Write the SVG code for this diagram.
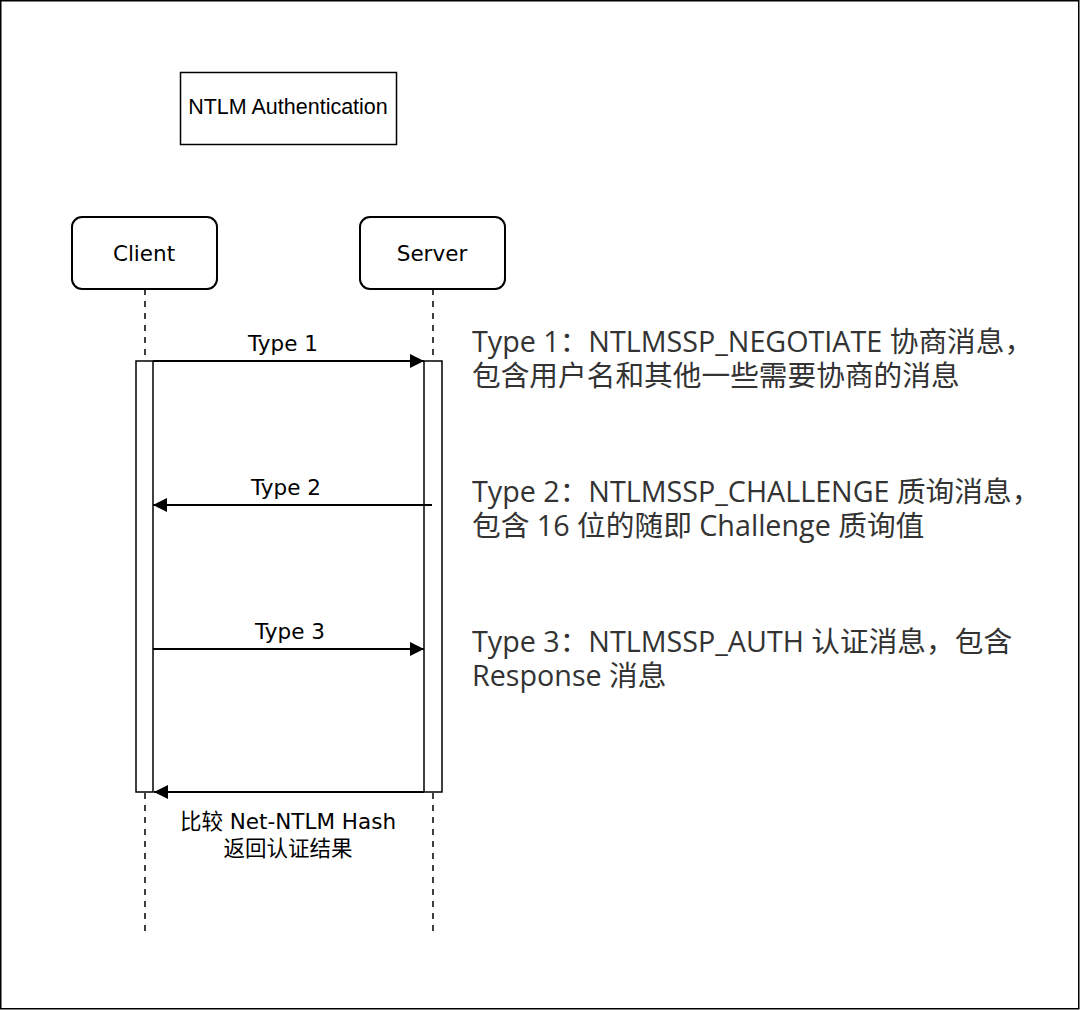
<svg xmlns="http://www.w3.org/2000/svg" width="1080" height="1010" viewBox="0 0 1080 1010">
<style>
.box{fill:#fff;stroke:#000;stroke-width:2}
.act{fill:#fff;stroke:#000;stroke-width:1.5}
.life{stroke:#000;stroke-width:1.5;stroke-dasharray:6 6;fill:none}
.msg{stroke:#000;stroke-width:2;fill:none}
.lbl{font-family:"DejaVu Sans","Noto Sans CJK SC",sans-serif;font-size:21.5px;fill:#000;text-anchor:middle}
.title{font-family:"Liberation Sans",Arial,sans-serif;font-size:21.5px;fill:#000;text-anchor:middle}
.note{font-family:"Open Sans","Noto Sans CJK SC",sans-serif;font-size:28.7px;fill:#333}
</style>
<defs>
<marker id="ah" viewBox="0 0 14 14" refX="14" refY="7" markerWidth="14" markerHeight="14" markerUnits="userSpaceOnUse" orient="auto">
<path d="M0,0 L14,7 L0,14 Z" fill="#000"/>
</marker>
</defs>
<rect x="0.75" y="0.75" width="1078" height="1008" fill="#fff" stroke="#000" stroke-width="1.5"/>
<g id="title">
<rect class="box" x="180.5" y="72.5" width="216" height="72" style="stroke-width:1.5"/>
<text class="title" x="288" y="114">NTLM Authentication</text>
</g>
<g id="client">
<line class="life" x1="145" y1="289" x2="145" y2="932"/>
<rect class="box" x="72" y="217" width="145" height="72" rx="10"/>
<text class="lbl" x="144" y="261">Client</text>
<rect class="act" x="136" y="361" width="17" height="431"/>
</g>
<g id="server">
<line class="life" x1="433" y1="289" x2="433" y2="932"/>
<rect class="box" x="360" y="217" width="145" height="72" rx="10"/>
<text class="lbl" x="432" y="261">Server</text>
<rect class="act" x="424" y="361" width="18" height="431"/>
</g>
<g id="connectors">
<line class="msg" x1="153" y1="361" x2="424" y2="361" marker-end="url(#ah)"/>
<line class="msg" x1="432" y1="505" x2="153" y2="505" marker-end="url(#ah)"/>
<line class="msg" x1="153" y1="649" x2="424" y2="649" marker-end="url(#ah)"/>
<line class="msg" x1="424" y1="792" x2="154" y2="792" marker-end="url(#ah)"/>
<text class="lbl" x="283" y="351">Type 1</text>
<text class="lbl" x="286" y="495">Type 2</text>
<text class="lbl" x="290" y="639">Type 3</text>
<text class="lbl"><tspan x="288" y="829">比较 Net-NTLM Hash</tspan><tspan x="288" y="856">返回认证结果</tspan></text>
</g>
<g id="note1">
<text class="note"><tspan x="472" y="352">Type 1：NTLMSSP_NEGOTIATE 协商消息，</tspan><tspan x="472" y="386">包含用户名和其他一些需要协商的消息</tspan></text>
</g>
<g id="note2">
<text class="note"><tspan x="472" y="502">Type 2：NTLMSSP_CHALLENGE 质询消息，</tspan><tspan x="472" y="536">包含 16 位的随即 Challenge 质询值</tspan></text>
</g>
<g id="note3">
<text class="note"><tspan x="472" y="652">Type 3：NTLMSSP_AUTH 认证消息，包含</tspan><tspan x="472" y="686">Response 消息</tspan></text>
</g>
</svg>
